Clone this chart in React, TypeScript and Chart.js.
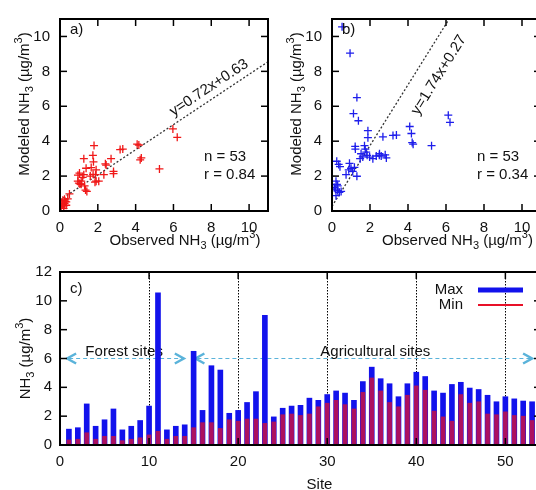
import React, { useEffect, useRef } from 'react';
import { Chart, registerables } from 'chart.js';

Chart.register(...registerables);

const FONT = '"Liberation Sans", Arial, Helvetica, sans-serif';

// ---- Panel a) data ----
const obsA = [0.06, 0.15, 0.19, 0.24, 0.24, 0.33, 0.33, 0.41, 0.50, 0.10, 0.20, 0.12, 0.28,
  0.94, 1.03, 1.12, 1.12, 1.20, 1.26, 1.30, 1.35, 1.42, 1.00, 0.95, 1.05,
  1.26, 1.38, 1.80, 1.65, 1.74, 1.77, 1.88, 1.91, 1.91, 2.05, 1.60, 1.75, 1.85,
  2.32, 2.44, 2.40, 2.70, 2.83, 2.83, 3.18, 3.32, 4.08, 4.17, 4.24, 4.30, 5.26, 5.97, 6.20];
const modA = [0.24, 0.61, 0.15, 0.42, 0.68, 0.33, 0.52, 0.70, 0.98, 0.45, 0.30, 0.35, 0.55,
  1.71, 2.17, 1.53, 1.71, 1.93, 2.08, 1.44, 1.20, 1.12, 1.60, 2.05, 1.55,
  3.00, 2.45, 3.75, 2.49, 3.19, 2.82, 2.08, 2.36, 1.71, 1.71, 2.00, 2.10, 1.65,
  2.08, 2.63, 2.70, 3.00, 2.27, 2.14, 3.52, 3.55, 3.83, 3.78, 2.93, 3.04, 2.41, 4.70, 4.22];
const fitA = { slope: 0.72, intercept: 0.63, label: 'y=0.72x+0.63' };
const statsA = ['n = 53', 'r = 0.84'];

// ---- Panel b) data ----
const obsB = [0.53, 0.95, 1.31, 1.13, 1.39, 1.89, 1.89, 6.12, 6.21, 4.09, 4.18, 4.22, 4.27, 5.24,
  3.21, 3.39, 2.68, 1.22, 1.23, 1.71, 1.75, 1.80, 1.85, 1.98, 2.15, 2.50, 2.59, 2.80, 2.86, 1.48,
  0.25, 0.35, 0.42, 0.92, 1.00, 1.09, 1.18, 1.31, 0.88, 0.21, 0.26, 0.12, 0.30, 0.39, 0.18, 0.48,
  0.21, 2.33, 2.49, 1.53, 1.62, 0.74, 0.30];
const modB = [10.55, 9.04, 6.50, 5.58, 5.17, 4.60, 4.20, 5.49, 5.08, 4.84, 4.44, 3.92, 3.83, 3.74,
  4.33, 4.35, 4.25, 3.70, 3.55, 3.74, 3.55, 3.37, 3.19, 3.09, 3.00, 3.28, 3.15, 3.22, 3.04, 3.00,
  2.85, 2.67, 2.54, 2.73, 2.45, 2.27, 2.50, 1.99, 2.36, 1.71, 1.53, 1.34, 1.16, 1.07, 1.25, 1.12,
  0.88, 3.15, 3.19, 3.28, 3.10, 2.08, 1.44];
const fitB = { slope: 1.74, intercept: 0.27, label: 'y=1.74x+0.27' };
const statsB = ['n = 53', 'r = 0.34'];

const scatterTicks = [0, 2, 4, 6, 8, 10];

// ---- Panel c) data ----
const sites = [1, 2, 3, 4, 5, 6, 7, 8, 9, 10, 11, 12, 13, 14, 15, 16, 17, 18, 19, 20, 21, 22, 23, 24, 25, 26,
  27, 28, 29, 30, 31, 32, 33, 34, 35, 36, 37, 38, 39, 40, 41, 42, 43, 44, 45, 46, 47, 48, 49, 50, 51, 52, 53];
const maxVals = [1.1, 1.2, 2.85, 1.3, 1.75, 2.5, 1.05, 1.3, 1.7, 2.7, 10.55, 1.05, 1.3, 1.4, 6.5, 2.4, 5.5,
  5.2, 2.2, 2.4, 2.95, 3.7, 9.0, 1.95, 2.55, 2.7, 2.75, 3.25, 3.1, 3.5, 3.75, 3.6, 3.1, 4.4, 5.4, 4.6, 4.25,
  3.35, 4.25, 5.05, 4.75, 3.75, 3.6, 4.2, 4.35, 3.95, 3.85, 3.45, 3.0, 3.35, 3.2, 3.05, 3.0];
const minVals = [0.35, 0.4, 0.85, 0.4, 0.6, 0.6, 0.3, 0.4, 0.5, 0.7, 0.95, 0.4, 0.6, 0.6, 1.2, 1.55, 1.55,
  1.15, 1.75, 1.65, 1.8, 1.8, 1.5, 1.6, 2.1, 2.15, 2.05, 2.15, 2.65, 2.9, 3.1, 2.8, 2.5, 3.65, 4.65, 3.75,
  2.95, 2.65, 3.45, 4.1, 3.8, 2.35, 1.95, 1.65, 3.5, 2.9, 3.0, 2.15, 2.1, 2.3, 2.05, 2.0, 1.7];
const siteTicks = [0, 10, 20, 30, 40, 50];
const concTicks = [0, 2, 4, 6, 8, 10, 12];
const groups = [
  { label: 'Forest sites', from: 0.8, to: 13.9, level: 6, labelAt: 7.2 },
  { label: 'Agricultural sites', from: 15.2, to: 53.0, level: 6, labelAt: 35.4 },
];

type Part = { t: string; k?: 'sub' | 'sup' };
const nh3Parts = (prefix: string): Part[] => [
  { t: prefix + 'NH' }, { t: '3', k: 'sub' }, { t: ' (µg/m' }, { t: '3', k: 'sup' }, { t: ')' },
];

function drawRich(ctx: CanvasRenderingContext2D, parts: Part[], x: number, y: number, rot: number, size: number, align: 'center' | 'left' = 'center') {
  ctx.save();
  ctx.translate(x, y);
  ctx.rotate(rot);
  const small = Math.round(size * 0.7);
  const widths = parts.map((p) => {
    ctx.font = `${p.k ? small : size}px ${FONT}`;
    return ctx.measureText(p.t).width;
  });
  const total = widths.reduce((a, b) => a + b, 0);
  let cx = align === 'center' ? -total / 2 : 0;
  ctx.textBaseline = 'middle';
  ctx.textAlign = 'left';
  ctx.fillStyle = '#111';
  parts.forEach((p, i) => {
    ctx.font = `${p.k ? small : size}px ${FONT}`;
    const dy = p.k === 'sub' ? size * 0.32 : p.k === 'sup' ? -size * 0.38 : 0;
    ctx.fillText(p.t, cx, dy);
    cx += widths[i];
  });
  ctx.restore();
}

function line(ctx: CanvasRenderingContext2D, x1: number, y1: number, x2: number, y2: number) {
  ctx.beginPath();
  ctx.moveTo(x1, y1);
  ctx.lineTo(x2, y2);
  ctx.stroke();
}

function drawFrame(chart: any, xTicks: number[], yTicks: number[], len: number) {
  const { ctx, chartArea: a, scales } = chart;
  ctx.save();
  ctx.strokeStyle = '#000';
  ctx.lineWidth = 1.5;
  ctx.setLineDash([]);
  xTicks.forEach((v) => {
    const px = scales.x.getPixelForValue(v);
    if (px <= a.left + 1 || px >= a.right - 1) return;
    line(ctx, px, a.bottom, px, a.bottom - len);
    line(ctx, px, a.top, px, a.top + len);
  });
  yTicks.forEach((v) => {
    const py = scales.y.getPixelForValue(v);
    if (py <= a.top + 1 || py >= a.bottom - 1) return;
    line(ctx, a.left, py, a.left + len, py);
    line(ctx, a.right, py, a.right - len, py);
  });
  ctx.lineWidth = 2;
  ctx.strokeRect(a.left, a.top, a.right - a.left, a.bottom - a.top);
  ctx.restore();
}

function scatterConfig(obs: number[], mod: number[], fit: any, stats: string[], panel: string, color: string, yAxisWidth: number, padRight: number, eqAt: number, eqOffset: number) {
  const points = obs.map((x, i) => ({ x, y: mod[i] }));
  const fitLine = [0, 11].map((x) => ({ x, y: fit.slope * x + fit.intercept }));
  const plugin = {
    id: 'scatterDecor' + panel,
    afterDraw(chart: any) {
      const { ctx, chartArea: a, scales } = chart;
      drawFrame(chart, scatterTicks, scatterTicks, 7);
      ctx.save();
      ctx.fillStyle = '#111';
      ctx.font = `15px ${FONT}`;
      ctx.textBaseline = 'middle';
      ctx.textAlign = 'left';
      ctx.fillText(panel + ')', a.left + 10, a.top + 11);
      ctx.fillText(stats[0], a.right - 64, a.bottom - 54);
      ctx.fillText(stats[1], a.right - 64, a.bottom - 36);
      ctx.restore();
      // equation along fit line
      const x0 = scales.x.getPixelForValue(0), y0 = scales.y.getPixelForValue(fit.intercept);
      const x1 = scales.x.getPixelForValue(10), y1 = scales.y.getPixelForValue(fit.slope * 10 + fit.intercept);
      const ang = Math.atan2(y1 - y0, x1 - x0);
      const fx = scales.x.getPixelForValue(eqAt), fy = scales.y.getPixelForValue(fit.slope * eqAt + fit.intercept);
      const nx = Math.sin(ang), ny = -Math.cos(ang);
      drawRich(ctx, [{ t: fit.label }], fx + nx * eqOffset, fy + ny * eqOffset, ang, 15);
      // axis titles
      drawRich(ctx, nh3Parts('Modeled '), a.left - 35, 104, -Math.PI / 2, 15);
      drawRich(ctx, nh3Parts('Observed '), (a.left + a.right) / 2 + 21, 241, 0, 15);
    },
  };
  const tickFont = { size: 15, family: FONT };
  return {
    type: 'scatter' as const,
    data: {
      datasets: [
        {
          data: points, pointStyle: 'cross', pointRadius: 4, pointBorderWidth: 1.3,
          borderColor: color, backgroundColor: color, order: 1,
        },
        {
          data: fitLine, showLine: true, pointRadius: 0, borderColor: '#333', borderWidth: 1.3,
          borderDash: [2, 2], order: 2,
        },
      ],
    },
    options: {
      animation: false as const,
      responsive: false,
      devicePixelRatio: 1,
      layout: { padding: { top: 12, right: padRight, left: 0, bottom: 0 } },
      plugins: { legend: { display: false }, tooltip: { enabled: false } },
      scales: {
        x: {
          type: 'linear' as const, min: 0, max: 11,
          afterBuildTicks: (s: any) => { s.ticks = scatterTicks.map((v) => ({ value: v })); },
          afterFit: (s: any) => { s.height = 39; },
          grid: { display: false, drawTicks: false }, border: { display: false },
          ticks: { font: tickFont, color: '#111', padding: 8, maxRotation: 0, autoSkip: false },
        },
        y: {
          type: 'linear' as const, min: 0, max: 11,
          afterBuildTicks: (s: any) => { s.ticks = scatterTicks.map((v) => ({ value: v })); },
          afterFit: (s: any) => { s.width = yAxisWidth; },
          grid: { display: false, drawTicks: false }, border: { display: false },
          ticks: { font: tickFont, color: '#111', padding: 10, autoSkip: false },
        },
      },
    },
    plugins: [plugin],
  };
}

function barConfig() {
  const blue = 'rgb(18,18,236)';
  const red = 'rgb(232,16,40)';
  const decor = {
    id: 'barDecor',
    beforeDatasetsDraw(chart: any) {
      const { ctx, chartArea: a, scales } = chart;
      ctx.save();
      // group arrows and labels
      groups.forEach((g) => {
        const xa = scales.x.getPixelForValue(g.from), xb = scales.x.getPixelForValue(g.to);
        const y = scales.y.getPixelForValue(g.level);
        ctx.strokeStyle = '#5ab3da';
        ctx.lineWidth = 1;
        ctx.setLineDash([4, 3]);
        line(ctx, xa + 2, y, xb - 2, y);
        ctx.setLineDash([]);
        ctx.lineWidth = 2.5;
        ctx.beginPath();
        ctx.moveTo(xa + 9, y - 5); ctx.lineTo(xa, y); ctx.lineTo(xa + 9, y + 5);
        ctx.stroke();
        ctx.beginPath();
        ctx.moveTo(xb - 9, y - 5); ctx.lineTo(xb, y); ctx.lineTo(xb - 9, y + 5);
        ctx.stroke();
        ctx.fillStyle = '#111';
        ctx.font = `15px ${FONT}`;
        ctx.textAlign = 'center';
        ctx.textBaseline = 'middle';
        ctx.fillText(g.label, scales.x.getPixelForValue(g.labelAt), y - 7);
      });
      // dotted vertical grid
      ctx.strokeStyle = '#000';
      ctx.lineWidth = 1;
      ctx.setLineDash([1.5, 1.5]);
      siteTicks.forEach((v) => {
        if (v === 0) return;
        const px = Math.round(scales.x.getPixelForValue(v)) + 0.5;
        line(ctx, px, a.top, px, a.bottom);
      });
      ctx.restore();
    },
    afterDraw(chart: any) {
      const { ctx, chartArea: a } = chart;
      drawFrame(chart, siteTicks, concTicks, 7);
      ctx.save();
      ctx.fillStyle = '#111';
      ctx.font = `15px ${FONT}`;
      ctx.textBaseline = 'middle';
      ctx.textAlign = 'left';
      ctx.fillText('c)', a.left + 10, a.top + 17);
      // legend
      ctx.textAlign = 'right';
      ctx.fillText('Max', a.right - 78, a.top + 18);
      ctx.fillText('Min', a.right - 78, a.top + 33);
      ctx.lineWidth = 5;
      ctx.strokeStyle = blue;
      line(ctx, a.right - 63, a.top + 18, a.right - 18, a.top + 18);
      ctx.lineWidth = 2;
      ctx.strokeStyle = red;
      line(ctx, a.right - 63, a.top + 33, a.right - 18, a.top + 33);
      ctx.restore();
      drawRich(ctx, nh3Parts(''), a.left - 34, (a.top + a.bottom) / 2, -Math.PI / 2, 15);
      drawRich(ctx, [{ t: 'Site' }], (a.left + a.right) / 2 + 19, 230, 0, 15);
    },
  };
  const tickFont = { size: 15, family: FONT };
  return {
    type: 'bar' as const,
    data: {
      datasets: [
        {
          label: 'Min', data: sites.map((s, i) => ({ x: s, y: minVals[i] })),
          backgroundColor: 'rgba(232,16,40,0.72)', barThickness: 4, grouped: false, order: 1,
        },
        {
          label: 'Max', data: sites.map((s, i) => ({ x: s, y: maxVals[i] })),
          backgroundColor: blue, barThickness: 5, grouped: false, order: 2,
        },
      ],
    },
    options: {
      animation: false as const,
      responsive: false,
      devicePixelRatio: 1,
      layout: { padding: { top: 15, right: 14, left: 0, bottom: 0 } },
      plugins: { legend: { display: false }, tooltip: { enabled: false } },
      scales: {
        x: {
          type: 'linear' as const, min: 0, max: 54, offset: false,
          afterBuildTicks: (s: any) => { s.ticks = siteTicks.map((v) => ({ value: v })); },
          afterFit: (s: any) => { s.height = 45; },
          grid: { display: false, drawTicks: false, offset: false }, border: { display: false },
          ticks: { font: tickFont, color: '#111', padding: 8, maxRotation: 0, autoSkip: false },
        },
        y: {
          type: 'linear' as const, min: 0, max: 12,
          afterBuildTicks: (s: any) => { s.ticks = concTicks.map((v) => ({ value: v })); },
          afterFit: (s: any) => { s.width = 60; },
          grid: { display: false, drawTicks: false }, border: { display: false },
          ticks: { font: tickFont, color: '#111', padding: 8, autoSkip: false },
        },
      },
    },
    plugins: [decor],
  };
}

export default function App() {
  const aRef = useRef<HTMLCanvasElement>(null);
  const bRef = useRef<HTMLCanvasElement>(null);
  const cRef = useRef<HTMLCanvasElement>(null);

  useEffect(() => {
    const ca = new Chart(aRef.current as HTMLCanvasElement, scatterConfig(obsA, modA, fitA, statsA, 'a', 'rgb(240,24,24)', 60, 12, 8.2, 11) as any);
    const cb = new Chart(bRef.current as HTMLCanvasElement, scatterConfig(obsB, modB, fitB, statsB, 'b', 'rgb(30,30,235)', 62, 14, 4.69, -21) as any);
    const cc = new Chart(cRef.current as HTMLCanvasElement, barConfig() as any);
    return () => { ca.destroy(); cb.destroy(); cc.destroy(); };
  }, []);

  return (
    <div style={{ position: 'fixed', left: 0, top: 0, width: 536, height: 490, overflow: 'hidden', background: '#fff' }}>
      <canvas ref={aRef} width={280} height={250} style={{ position: 'absolute', left: 0, top: 0, width: 280, height: 250 }} />
      <canvas ref={bRef} width={285} height={250} style={{ position: 'absolute', left: 270, top: 0, width: 285, height: 250 }} />
      <canvas ref={cRef} width={555} height={235} style={{ position: 'absolute', left: 0, top: 255, width: 555, height: 235 }} />
    </div>
  );
}
